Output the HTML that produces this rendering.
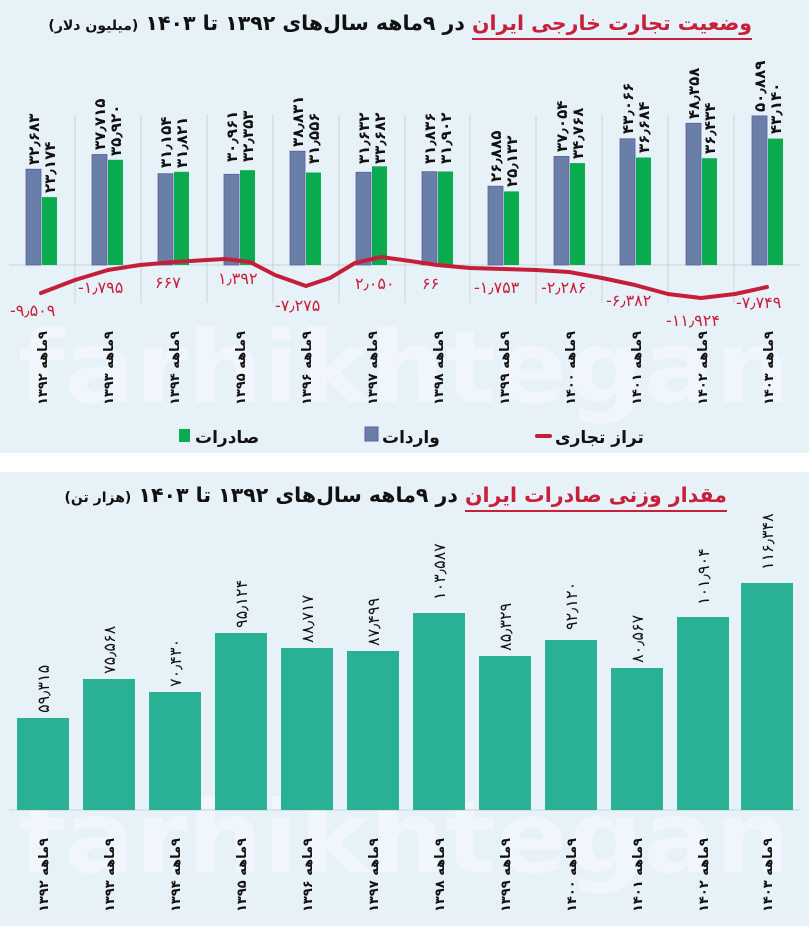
<!DOCTYPE html>
<html><head><meta charset="utf-8"><style>
html,body{margin:0;padding:0;background:#fff;}
body{width:809px;height:926px;position:relative;overflow:hidden;font-family:"DejaVu Sans","Liberation Sans",sans-serif;}
.panel{position:absolute;left:0;width:809px;background:#e7f1f8;}
.title{position:absolute;direction:rtl;white-space:nowrap;font-weight:bold;font-size:20.5px;color:#111;font-family:"DejaVu Sans","Liberation Sans",sans-serif;}
.title .r{color:#c8203a;border-bottom:2px solid #c8203a;padding-bottom:3px;}
.title .s{font-size:14px;}
svg{position:absolute;left:0;top:0;}
</style></head><body>
<div class="panel" style="top:0;height:453px;"></div>
<div class="panel" style="top:472px;height:454px;"></div>

<svg width="809" height="926" viewBox="0 0 809 926" xmlns="http://www.w3.org/2000/svg" font-family="DejaVu Sans, Liberation Sans, sans-serif">
<g fill="#ffffff" fill-opacity="0.4" font-weight="bold" font-size="100">
<text x="18" y="402" textLength="772" lengthAdjust="spacingAndGlyphs">farhikhtegan</text>
<text x="18" y="872" textLength="772" lengthAdjust="spacingAndGlyphs">farhikhtegan</text>
</g>
<g stroke="#c9d3da" stroke-width="1">
<line x1="75" y1="115" x2="75" y2="303"/><line x1="141" y1="115" x2="141" y2="303"/><line x1="207" y1="115" x2="207" y2="303"/><line x1="273" y1="115" x2="273" y2="303"/><line x1="339" y1="115" x2="339" y2="303"/><line x1="405" y1="115" x2="405" y2="303"/><line x1="470" y1="115" x2="470" y2="303"/><line x1="536" y1="115" x2="536" y2="303"/><line x1="602" y1="115" x2="602" y2="303"/><line x1="668" y1="115" x2="668" y2="303"/><line x1="734" y1="115" x2="734" y2="303"/>
<line x1="9" y1="265" x2="800" y2="265"/>
<line x1="9" y1="810" x2="800" y2="810"/>
</g>
<g fill="#6a7fa8" stroke="#5a5fa0" stroke-width="0.8">
<rect x="26" y="169.2" width="15" height="95.8"/><rect x="92" y="154.5" width="15" height="110.5"/><rect x="158" y="173.7" width="15" height="91.3"/><rect x="224" y="174.3" width="15" height="90.7"/><rect x="290" y="151.2" width="15" height="113.8"/><rect x="356" y="172.3" width="15" height="92.7"/><rect x="422" y="171.7" width="15" height="93.3"/><rect x="488" y="186.2" width="15" height="78.8"/><rect x="554" y="156.4" width="15" height="108.6"/><rect x="620" y="138.8" width="15" height="126.2"/><rect x="686" y="123.3" width="15" height="141.7"/><rect x="752" y="115.9" width="15" height="149.1"/>
</g>
<g fill="#0aab4f">
<rect x="42" y="197.1" width="15" height="67.9"/><rect x="108" y="159.8" width="15" height="105.2"/><rect x="174" y="171.8" width="15" height="93.2"/><rect x="240" y="170.2" width="15" height="94.8"/><rect x="306" y="172.5" width="15" height="92.5"/><rect x="372" y="166.3" width="15" height="98.7"/><rect x="438" y="171.5" width="15" height="93.5"/><rect x="504" y="191.4" width="15" height="73.6"/><rect x="570" y="163.1" width="15" height="101.9"/><rect x="636" y="157.5" width="15" height="107.5"/><rect x="702" y="158.2" width="15" height="106.8"/><rect x="768" y="138.6" width="15" height="126.4"/>
</g>
<g font-size="15" font-weight="bold" fill="#111">
<text x="39" y="165" transform="rotate(-90 39 165)">۳۲٫۶۸۳</text>
<text x="55" y="193" transform="rotate(-90 55 193)">۲۳٫۱۷۴</text>
<text x="105" y="150" transform="rotate(-90 105 150)">۳۷٫۷۱۵</text>
<text x="121" y="156" transform="rotate(-90 121 156)">۳۵٫۹۲۰</text>
<text x="171" y="168" transform="rotate(-90 171 168)">۳۱٫۱۵۴</text>
<text x="187" y="168" transform="rotate(-90 187 168)">۳۱٫۸۲۱</text>
<text x="237" y="162" transform="rotate(-90 237 162)">۳۰٫۹۶۱</text>
<text x="253" y="162" transform="rotate(-90 253 162)">۳۲٫۳۵۳</text>
<text x="303" y="147" transform="rotate(-90 303 147)">۳۸٫۸۳۱</text>
<text x="319" y="164" transform="rotate(-90 319 164)">۳۱٫۵۵۶</text>
<text x="369" y="164" transform="rotate(-90 369 164)">۳۱٫۶۳۲</text>
<text x="385" y="164" transform="rotate(-90 385 164)">۳۳٫۶۸۲</text>
<text x="435" y="164" transform="rotate(-90 435 164)">۳۱٫۸۳۶</text>
<text x="451" y="164" transform="rotate(-90 451 164)">۳۱٫۹۰۲</text>
<text x="501" y="182" transform="rotate(-90 501 182)">۲۶٫۸۸۵</text>
<text x="517" y="187" transform="rotate(-90 517 187)">۲۵٫۱۳۲</text>
<text x="567" y="152" transform="rotate(-90 567 152)">۳۷٫۰۵۴</text>
<text x="583" y="159" transform="rotate(-90 583 159)">۳۴٫۷۶۸</text>
<text x="633" y="134" transform="rotate(-90 633 134)">۴۳٫۰۶۶</text>
<text x="649" y="153" transform="rotate(-90 649 153)">۳۶٫۶۸۴</text>
<text x="699" y="119" transform="rotate(-90 699 119)">۴۸٫۳۵۸</text>
<text x="715" y="154" transform="rotate(-90 715 154)">۳۶٫۴۳۴</text>
<text x="765" y="112" transform="rotate(-90 765 112)">۵۰٫۸۸۹</text>
<text x="781" y="134" transform="rotate(-90 781 134)">۴۳٫۱۴۰</text>
</g>
<polyline fill="none" stroke="#c41e3a" stroke-width="4" stroke-linejoin="round" stroke-linecap="round"
points="41,293 75,280 108,270 140,265 174,262 207,260 225,259 250,262 275,275 306,286 330,278 355,263 381,257 410,261 437,265 470,268 503,269 536,270 569,272 602,278 635,285 668,294 701,298 735,294 767,287"/>
<g font-size="16" fill="#c8203a">
<text x="10" y="316">-۹٫۵۰۹</text>
<text x="78" y="293">-۱٫۷۹۵</text>
<text x="155" y="288">۶۶۷</text>
<text x="218" y="284">۱٫۳۹۲</text>
<text x="275" y="311">-۷٫۲۷۵</text>
<text x="355" y="289">۲٫۰۵۰</text>
<text x="422" y="289">۶۶</text>
<text x="474" y="293">-۱٫۷۵۳</text>
<text x="541" y="293">-۲٫۲۸۶</text>
<text x="606" y="306">-۶٫۳۸۲</text>
<text x="666" y="326">-۱۱٫۹۲۴</text>
<text x="736" y="308">-۷٫۷۴۹</text>
</g>
<g font-size="13" font-weight="bold" fill="#111" direction="rtl">
<text x="47" y="331" transform="rotate(-90 47 331)">۹ماهه ۱۳۹۲</text>
<text x="113" y="331" transform="rotate(-90 113 331)">۹ماهه ۱۳۹۳</text>
<text x="179" y="331" transform="rotate(-90 179 331)">۹ماهه ۱۳۹۴</text>
<text x="245" y="331" transform="rotate(-90 245 331)">۹ماهه ۱۳۹۵</text>
<text x="311" y="331" transform="rotate(-90 311 331)">۹ماهه ۱۳۹۶</text>
<text x="377" y="331" transform="rotate(-90 377 331)">۹ماهه ۱۳۹۷</text>
<text x="443" y="331" transform="rotate(-90 443 331)">۹ماهه ۱۳۹۸</text>
<text x="509" y="331" transform="rotate(-90 509 331)">۹ماهه ۱۳۹۹</text>
<text x="575" y="331" transform="rotate(-90 575 331)">۹ماهه ۱۴۰۰</text>
<text x="641" y="331" transform="rotate(-90 641 331)">۹ماهه ۱۴۰۱</text>
<text x="707" y="331" transform="rotate(-90 707 331)">۹ماهه ۱۴۰۲</text>
<text x="773" y="331" transform="rotate(-90 773 331)">۹ماهه ۱۴۰۳</text>
</g>
<rect x="179" y="429" width="11" height="13" fill="#0aab4f"/>
<rect x="365" y="427" width="13" height="14" fill="#6a7fa8" stroke="#5a5fa0"/>
<rect x="535" y="434" width="17" height="4" rx="2" fill="#c41e3a"/>
<g font-size="17" font-weight="bold" fill="#111">
<text x="195" y="443">صادرات</text>
<text x="382" y="443">واردات</text>
<text x="555" y="443">تراز تجاری</text>
</g>
<g fill="#2ab094">
<rect x="17" y="718" width="52" height="92"/><rect x="83" y="679" width="52" height="131"/><rect x="149" y="692" width="52" height="118"/><rect x="215" y="633" width="52" height="177"/><rect x="281" y="648" width="52" height="162"/><rect x="347" y="651" width="52" height="159"/><rect x="413" y="613" width="52" height="197"/><rect x="479" y="656" width="52" height="154"/><rect x="545" y="640" width="52" height="170"/><rect x="611" y="668" width="52" height="142"/><rect x="677" y="617" width="52" height="193"/><rect x="741" y="583" width="52" height="227"/>
</g>
<g font-size="16" fill="#111">
<text x="49" y="713" transform="rotate(-90 49 713)">۵۹٫۳۱۵</text>
<text x="115" y="674" transform="rotate(-90 115 674)">۷۵٫۵۶۸</text>
<text x="181" y="687" transform="rotate(-90 181 687)">۷۰٫۴۳۰</text>
<text x="247" y="628" transform="rotate(-90 247 628)">۹۵٫۱۲۴</text>
<text x="313" y="643" transform="rotate(-90 313 643)">۸۸٫۷۱۷</text>
<text x="379" y="646" transform="rotate(-90 379 646)">۸۷٫۴۹۹</text>
<text x="445" y="600" transform="rotate(-90 445 600)">۱۰۳٫۵۸۷</text>
<text x="511" y="651" transform="rotate(-90 511 651)">۸۵٫۳۲۹</text>
<text x="577" y="630" transform="rotate(-90 577 630)">۹۲٫۱۲۰</text>
<text x="643" y="663" transform="rotate(-90 643 663)">۸۰٫۵۶۷</text>
<text x="709" y="605" transform="rotate(-90 709 605)">۱۰۱٫۹۰۴</text>
<text x="773" y="570" transform="rotate(-90 773 570)">۱۱۶٫۳۴۸</text>
</g>
<g font-size="13" font-weight="bold" fill="#111" direction="rtl">
<text x="48" y="838" transform="rotate(-90 48 838)">۹ماهه ۱۳۹۲</text>
<text x="114" y="838" transform="rotate(-90 114 838)">۹ماهه ۱۳۹۳</text>
<text x="180" y="838" transform="rotate(-90 180 838)">۹ماهه ۱۳۹۴</text>
<text x="246" y="838" transform="rotate(-90 246 838)">۹ماهه ۱۳۹۵</text>
<text x="312" y="838" transform="rotate(-90 312 838)">۹ماهه ۱۳۹۶</text>
<text x="378" y="838" transform="rotate(-90 378 838)">۹ماهه ۱۳۹۷</text>
<text x="444" y="838" transform="rotate(-90 444 838)">۹ماهه ۱۳۹۸</text>
<text x="510" y="838" transform="rotate(-90 510 838)">۹ماهه ۱۳۹۹</text>
<text x="576" y="838" transform="rotate(-90 576 838)">۹ماهه ۱۴۰۰</text>
<text x="642" y="838" transform="rotate(-90 642 838)">۹ماهه ۱۴۰۱</text>
<text x="708" y="838" transform="rotate(-90 708 838)">۹ماهه ۱۴۰۲</text>
<text x="772" y="838" transform="rotate(-90 772 838)">۹ماهه ۱۴۰۳</text>
</g>
</svg>

<div class="title" style="right:57px;top:11px;"><span class="r">وضعیت تجارت خارجی ایران</span> در ۹ماهه سال‌های ۱۳۹۲ تا ۱۴۰۳ <span class="s">(میلیون دلار)</span></div>
<div class="title" style="right:82px;top:483px;"><span class="r">مقدار وزنی صادرات ایران</span> در ۹ماهه سال‌های ۱۳۹۲ تا ۱۴۰۳ <span class="s">(هزار تن)</span></div>
</body></html>
